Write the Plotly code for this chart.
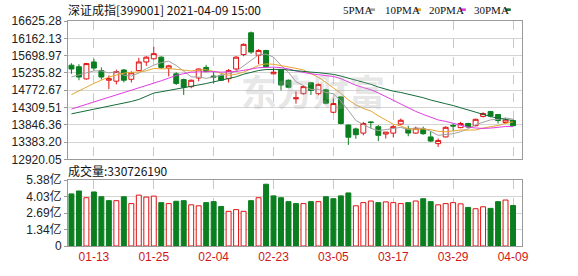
import plotly.graph_objects as go

dates = ["01-08","01-11","01-12","01-13","01-14","01-15","01-18","01-19","01-20","01-21",
         "01-22","01-25","01-26","01-27","01-28","01-29","02-01","02-02","02-03","02-04",
         "02-05","02-08","02-09","02-10","02-18","02-19","02-22","02-23","02-24","02-25",
         "02-26","03-01","03-02","03-03","03-04","03-05","03-08","03-09","03-10","03-11",
         "03-12","03-15","03-16","03-17","03-18","03-19","03-22","03-23","03-24","03-25",
         "03-26","03-29","03-30","03-31","04-01","04-02","04-06","04-07","04-08","04-09"]

opens = [15442,15400,15074,15528,15297,15039,15014,15314,15065,15297,
         15528,15614,15657,15357,15211,15057,14868,15099,15382,15151,
         15168,15082,15340,15726,16309,15708,15837,15211,15322,15039,
         14542,14679,14971,14679,14782,14182,14593,13839,13736,13624,
         13924,13796,13599,13624,13865,13736,13624,13736,13521,13341,
         13521,13830,13770,13881,13821,14070,14199,14122,13907,13959]
highs = [15494,15468,15503,15614,15382,15168,15322,15340,15280,15640,
         15683,15931,15683,15451,15254,15082,15057,15357,15451,15271,
         15211,15340,15683,16026,16343,15871,15850,15382,15340,15057,
         14739,14894,14988,14954,14808,14550,14610,13856,13770,13924,
         13941,13839,13650,13839,14010,13821,13796,13796,13667,13478,
         13804,13881,13924,13899,14010,14182,14207,14122,14027,13993]
lows = [15211,15039,15057,15297,15057,14799,14928,14979,14979,15280,
        15425,15597,15340,15142,14911,14645,14825,15014,15254,14954,
        15022,14979,15297,15683,15743,15468,15382,15194,14765,14825,
        14413,14653,14645,14636,14396,14156,13856,13307,13470,13564,
        13753,13410,13478,13513,13839,13539,13607,13581,13384,13255,
        13513,13684,13753,13770,13804,14044,14044,13881,13881,13804]
closes = [15340,15125,15485,15365,15125,15082,15271,15039,15237,15528,
          15657,15751,15382,15425,14954,14851,15039,15340,15271,15125,
          15039,15297,15657,16000,15794,15837,15400,15254,14911,14851,
          14567,14868,14765,14928,14422,14415,13881,13513,13581,13881,
          13907,13564,13650,13796,13967,13624,13753,13607,13410,13427,
          13779,13813,13881,13787,13993,14147,14079,13960,13976,13821]

ma5 = [15130,15180,15250,15290,15288,15236,15266,15176,15151,15231,
       15346,15442,15511,15549,15434,15273,15130,15122,15091,15125,
       15163,15214,15278,15424,15557,15717,15738,15657,15439,15251,
       14997,14890,14792,14796,14710,14680,14482,14232,13962,13854,
       13753,13689,13717,13760,13777,13720,13758,13749,13672,13564,
       13595,13607,13662,13737,13851,13924,13977,13993,14031,13997]
ma10 = [14653,14760,14860,14954,15040,15125,15180,15228,15250,15260,
        15291,15354,15344,15350,15333,15310,15286,15316,15320,15280,
        15218,15172,15200,15257,15341,15440,15476,15467,15431,15404,
        15357,15314,15225,15118,14980,14838,14686,14512,14379,14282,
        14216,14086,13974,13861,13816,13736,13724,13733,13716,13671,
        13658,13683,13706,13705,13707,13760,13792,13828,13884,13924]
ma20 = [14267,14330,14395,14456,14515,14575,14635,14696,14760,14825,
        14890,14954,15025,15095,15168,15215,15254,15262,15268,15270,
        15255,15263,15272,15304,15337,15375,15381,15392,15376,15342,
        15287,15243,15212,15187,15161,15139,15081,14990,14905,14843,
        14786,14700,14599,14489,14398,14287,14205,14123,14048,13976,
        13937,13884,13840,13783,13761,13748,13758,13780,13800,13797]
ma30 = [14139,14180,14225,14265,14300,14335,14370,14420,14470,14525,
        14610,14696,14730,14765,14800,14835,14868,14910,14950,14996,
        15040,15085,15130,15200,15260,15300,15325,15335,15330,15314,
        15289,15280,15256,15242,15218,15196,15150,15099,15043,14989,
        14930,14857,14800,14745,14712,14671,14629,14571,14509,14452,
        14410,14361,14302,14228,14168,14111,14067,14024,13993,13959]

# volume in 亿 (1e8)
volumes = [4.25,4.49,3.94,4.41,4.02,3.70,3.70,4.02,3.46,4.15,
           3.99,4.07,3.54,3.46,3.65,3.70,3.36,3.28,3.54,3.62,
           3.23,2.83,2.97,2.83,3.70,3.94,5.04,4.09,3.94,3.62,
           3.46,3.46,3.62,3.62,4.02,3.86,4.09,4.33,3.28,3.54,
           3.67,3.54,3.60,3.54,3.46,3.54,3.67,3.86,3.62,3.36,
           3.46,3.54,3.44,3.15,3.04,3.20,3.07,3.62,3.75,3.307]

price_ticks = [12920.05,13383.20,13846.36,14309.51,14772.67,15235.82,15698.97,16162.13,16625.28]
vol_ticks = [0,1.345,2.69,4.035,5.38]
vol_tick_text = ["0","1.34亿","2.69亿","4.03亿","5.38亿"]
x_tick_labels = ["01-13","01-25","02-04","02-23","03-05","03-17","03-29","04-09"]

title_text = "深证成指[399001] 2021-04-09 15:00"
vol_label = "成交量:330726190"
ma_names = ["5PMA","10PMA","20PMA","30PMA"]
ma_colors = ["#a0a0a0","#e8a530","#e23ce2","#146c3a"]

RED = "#e01010"
GREEN = "#0b7f1f"
FONT = "Liberation Sans, Arial, Noto Sans CJK SC"
CJK = "Noto Sans CJK SC"

idx = list(range(len(dates)))
tickvals = [dates.index(t) for t in x_tick_labels]

fig = go.Figure()
fig.add_trace(go.Candlestick(
    x=idx, open=opens, high=highs, low=lows, close=closes,
    increasing=dict(line=dict(color=RED, width=1), fillcolor="white"),
    decreasing=dict(line=dict(color=GREEN, width=1), fillcolor=GREEN),
    whiskerwidth=0, showlegend=False, hoverinfo="skip",
    xaxis="x", yaxis="y"))

for name, vals, col in zip(ma_names, [ma5, ma10, ma20, ma30], ma_colors):
    fig.add_trace(go.Scatter(x=idx, y=vals, mode="lines", name=name,
                             line=dict(color=col, width=1), showlegend=False,
                             hoverinfo="skip", xaxis="x", yaxis="y"))

vol_up = []
for i in idx:
    ref = closes[i - 1] if i > 0 else opens[i]
    vol_up.append(closes[i] >= ref)
fig.add_trace(go.Bar(
    x=idx, y=volumes, width=0.66,
    marker=dict(color=["white" if u else GREEN for u in vol_up],
                line=dict(color=[RED if u else GREEN for u in vol_up], width=1)),
    showlegend=False, hoverinfo="skip", xaxis="x2", yaxis="y2"))

xcommon = dict(range=[-0.46, 60.2], tickvals=tickvals, ticktext=x_tick_labels,
               showgrid=True, gridcolor="#c8c8c8", griddash="dash", gridwidth=1,
               showline=True, mirror=True, linecolor="#9a9a9a", linewidth=1,
               zeroline=False, ticks="", rangeslider=dict(visible=False))
fig.update_layout(
    width=578, height=276,
    margin=dict(l=57, r=56, t=21, b=20),
    paper_bgcolor="white", plot_bgcolor="white",
    boxgap=0.19, boxgroupgap=0.19, bargap=0.3,
    xaxis=dict(domain=[0, 1], anchor="y", showticklabels=False, **xcommon),
    xaxis2=dict(domain=[0, 1], anchor="y2", showticklabels=True,
                tickfont=dict(family=FONT, size=12, color="#d01818"), **xcommon),
    yaxis=dict(domain=[0.385, 1], range=[price_ticks[0], price_ticks[-1]],
               tickvals=price_ticks, ticktext=["%.2f" % v for v in price_ticks],
               tickfont=dict(family=FONT, size=12, color="#222"),
               showgrid=True, gridcolor="#d4d4d4", gridwidth=1,
               showline=True, mirror=True, linecolor="#9a9a9a", linewidth=1,
               ticks="outside", ticklen=3, tickcolor="#9a9a9a", zeroline=False),
    yaxis2=dict(domain=[0, 0.293], range=[0, 5.38],
                tickvals=vol_ticks, ticktext=vol_tick_text,
                tickfont=dict(family=FONT, size=12, color="#222"),
                showgrid=True, gridcolor="#d4d4d4", gridwidth=1,
                showline=True, mirror=True, linecolor="#9a9a9a", linewidth=1,
                ticks="outside", ticklen=3, tickcolor="#9a9a9a", zeroline=False),
)

def px_x(p):
    return (p - 57) / 465.0

def px_y(p):
    return 1 - (p - 21) / 235.0

annotations = [
    dict(text=title_text, x=px_x(55), y=px_y(9), xref="paper", yref="paper",
         xanchor="left", yanchor="middle", showarrow=False,
         font=dict(family=CJK, size=12, color="#111")),
    dict(text=vol_label, x=px_x(55), y=px_y(177.5), xref="paper", yref="paper",
         xanchor="left", yanchor="middle", showarrow=False,
         font=dict(family=CJK, size=12, color="#111")),
    dict(text="<b>东方财富</b>", x=px_x(308), y=px_y(93), xref="paper", yref="paper",
         xanchor="center", yanchor="middle", showarrow=False,
         font=dict(family=CJK, size=36, color="rgba(170,170,170,0.3)")),
]
shapes = []
leg_text_x = [337, 380, 425, 471]
leg_sq_x = [366, 413, 459, 505]
for name, col, tx, sx in zip(ma_names, ma_colors, leg_text_x, leg_sq_x):
    annotations.append(dict(text=name, x=px_x(tx), y=px_y(9), xref="paper", yref="paper",
                            xanchor="left", yanchor="middle", showarrow=False,
                            font=dict(family="Liberation Serif, DejaVu Serif", size=11, color="#111")))
    shapes.append(dict(type="rect", xref="paper", yref="paper",
                       x0=px_x(sx), x1=px_x(sx + 5.5), y0=px_y(10.5), y1=px_y(7.8),
                       fillcolor=col, line=dict(width=0)))
fig.update_layout(annotations=annotations, shapes=shapes)

fig.write_html("out.html")
